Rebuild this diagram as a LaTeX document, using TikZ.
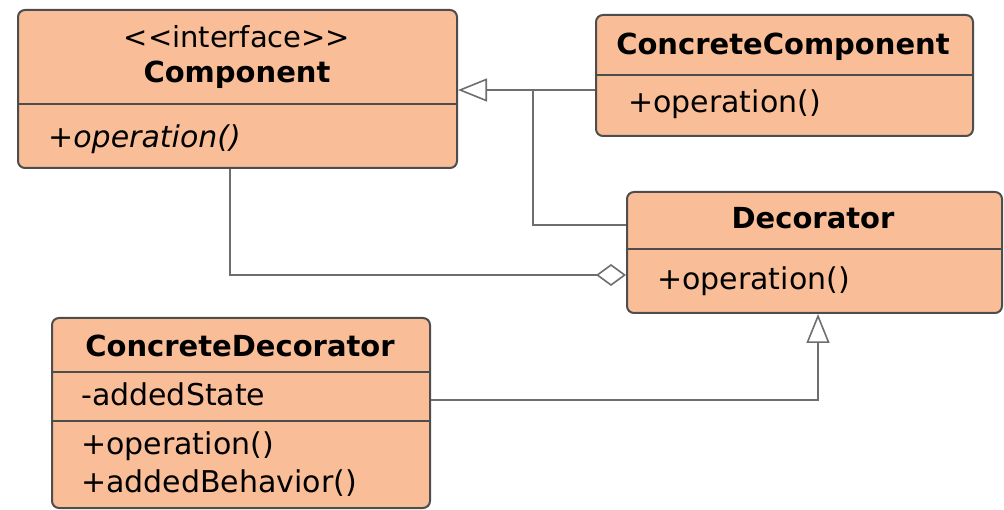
\documentclass[tikz,border=0pt]{standalone}
\usepackage{fontspec}
\setmainfont{DejaVu Sans}
\usetikzlibrary{arrows.meta}
\definecolor{boxfill}{HTML}{F9BE97}
\definecolor{boxline}{HTML}{4D4D4D}
\definecolor{conncol}{HTML}{6E6E6E}
\begin{document}
\begin{tikzpicture}[x=1pt,y=-1pt,
  umlbox/.style={draw=boxline, fill=boxfill, line width=2pt, rounded corners=7pt, anchor=north west, inner sep=0pt},
  divider/.style={draw=boxline, line width=2pt},
  conn/.style={draw=conncol, line width=2pt},
  gen/.style={-{Triangle[length=29pt, width=23pt, fill=white, line width=1.6pt]}},
  agg/.style={-{Diamond[length=30pt, width=22pt, fill=white, line width=1.6pt]}},
  txt/.style={font=\fontsize{30}{35}\selectfont, inner sep=0pt, text=black},
  clsname/.style={txt, font=\fontsize{29}{34}\selectfont\bfseries, anchor=base},
  member/.style={txt, anchor=base west}
]
\useasboundingbox (0,0) rectangle (1004,510);

% Component
\node[umlbox, minimum width=439pt, minimum height=158pt] (comp) at (17,9) {};
\draw[divider] (comp.west |- 0,104) -- (comp.east |- 0,104);
\node[txt, anchor=base, font=\fontsize{29}{34}\selectfont] (compst) at (237,48) {<\kern0pt<interface>\kern0pt>};
\node[clsname] (compn) at (237,83) {Component};
\node[member, font=\fontsize{30}{35}\selectfont\itshape] (compop) at (48,148) {+operation()};

% ConcreteComponent
\node[umlbox, minimum width=377pt, minimum height=121pt] (cc) at (595,14) {};
\draw[divider] (cc.west |- 0,75) -- (cc.east |- 0,75);
\node[clsname] (ccn) at (783,55) {ConcreteComponent};
\node[member] (ccop) at (628,113) {+operation()};

% Decorator
\node[umlbox, minimum width=375pt, minimum height=121pt] (dec) at (626,191) {};
\draw[divider] (dec.west |- 0,249) -- (dec.east |- 0,249);
\node[clsname] (decn) at (813,229) {Decorator};
\node[member] (decop) at (657,290) {+operation()};

% ConcreteDecorator
\node[umlbox, minimum width=378pt, minimum height=190pt] (cd) at (51,317) {};
\draw[divider] (cd.west |- 0,372) -- (cd.east |- 0,372);
\draw[divider] (cd.west |- 0,421) -- (cd.east |- 0,421);
\node[clsname] (cdn) at (240,357) {ConcreteDecorator};
\node[member] (cdst) at (81,406) {-addedState};
\node[member] (cdop) at (81,454) {+operation()};
\node[member] (cdab) at (81,492) {+addedBehavior()};

% Connectors
\coordinate (j) at (533,90);
\draw[conn, gen] (cc.west |- j) -- (comp.east |- j);
\draw[conn] (dec.west |- 0,225) -| (j);
\draw[conn, agg] (comp.south -| 230,0) |- (dec.west |- 0,275);
\draw[conn, gen] (cd.east |- 0,400) -| (dec.south -| 818,0);
\end{tikzpicture}
\end{document}
